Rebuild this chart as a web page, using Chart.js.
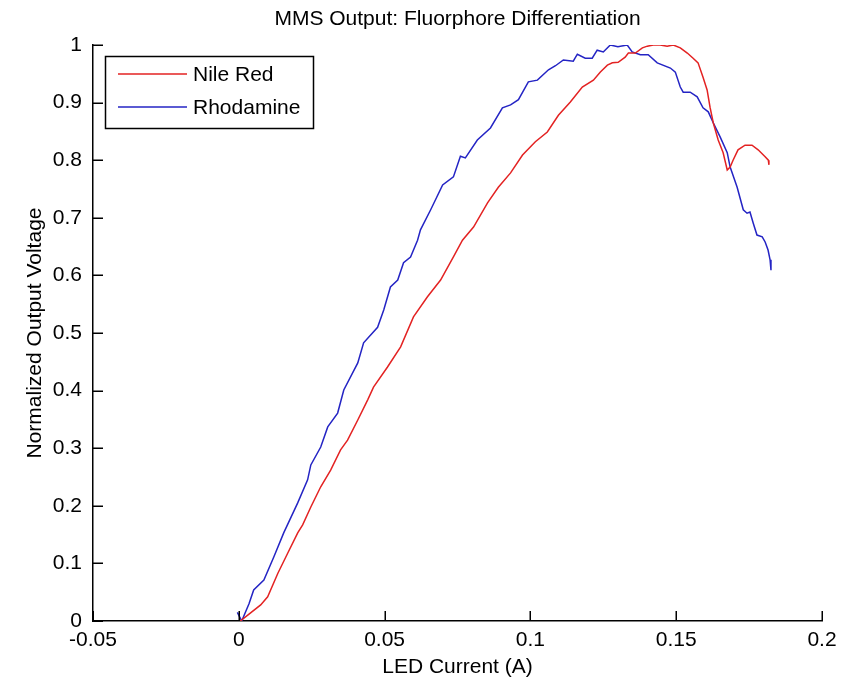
<!DOCTYPE html>
<html>
<head>
<meta charset="utf-8">
<script src="https://cdn.jsdelivr.net/npm/chart.js@4/dist/chart.umd.min.js"></script>
<style>
  html, body { margin: 0; padding: 0; background: #ffffff; }
  #wrap { width: 848px; height: 681px; position: relative; }
</style>
</head>
<body>
<div id="wrap"><canvas id="c"></canvas></div>
<script>
// ---- data ----
const chartTitle = 'MMS Output: Fluorphore Differentiation';
const xAxisTitle = 'LED Current (A)';
const yAxisTitle = 'Normalized Output Voltage';

const xTicks = [-0.05, 0, 0.05, 0.1, 0.15, 0.2];
const xTickLabels = ['-0.05', '0', '0.05', '0.1', '0.15', '0.2'];
const yTicks = [0, 0.1, 0.2, 0.3, 0.4, 0.5, 0.6, 0.7, 0.8, 0.9, 1];
const yTickLabels = ['0', '0.1', '0.2', '0.3', '0.4', '0.5', '0.6', '0.7', '0.8', '0.9', '1'];

const nileRedLabel = 'Nile Red';
const nileRedX = [0.0005, 0.0035, 0.0075, 0.0099, 0.0134, 0.0168, 0.0202, 0.0219, 0.0247, 0.0281,
  0.0315, 0.0349, 0.0373, 0.0408, 0.0442, 0.0462, 0.051, 0.0555, 0.0599, 0.0647,
  0.0692, 0.0736, 0.0767, 0.0805, 0.0853, 0.089, 0.0932, 0.0973, 0.1017, 0.1058,
  0.1096, 0.1137, 0.1178, 0.1216, 0.124, 0.1264, 0.1281, 0.1301, 0.1325, 0.1336,
  0.136, 0.1384, 0.1401, 0.1421, 0.1445, 0.1469, 0.149, 0.1514, 0.1538, 0.1558,
  0.1575, 0.1592, 0.1606, 0.1616, 0.1627, 0.1644, 0.1661, 0.1675, 0.1685, 0.1695,
  0.1712, 0.1736, 0.176, 0.1781, 0.1805, 0.1816, 0.1818];
const nileRedY = [0.0, 0.012, 0.028, 0.042, 0.083, 0.118, 0.153, 0.167, 0.198, 0.233,
  0.262, 0.297, 0.314, 0.349, 0.384, 0.406, 0.441, 0.476, 0.528, 0.563,
  0.592, 0.632, 0.661, 0.684, 0.726, 0.753, 0.778, 0.809, 0.832, 0.849,
  0.878, 0.901, 0.927, 0.939, 0.953, 0.965, 0.969, 0.970, 0.979, 0.986,
  0.986, 0.995, 0.998, 1.0, 1.0, 0.998, 1.0, 0.995, 0.986, 0.977,
  0.969, 0.944, 0.922, 0.892, 0.865, 0.835, 0.813, 0.783, 0.788, 0.800,
  0.818, 0.826, 0.826, 0.818, 0.806, 0.800, 0.792];

const rhodamineLabel = 'Rhodamine';
const rhodamineX = [-0.0005, 0.001, 0.0035, 0.0051, 0.0086, 0.012, 0.0154, 0.0202, 0.0236, 0.0247,
  0.0281, 0.0305, 0.0339, 0.036, 0.0408, 0.0428, 0.0476, 0.0497, 0.052, 0.0545,
  0.0565, 0.0589, 0.0613, 0.0623, 0.0658, 0.0699, 0.0736, 0.076, 0.0777, 0.0818,
  0.0863, 0.0904, 0.0932, 0.0959, 0.0993, 0.1024, 0.1062, 0.1086, 0.1113, 0.1147,
  0.1161, 0.1188, 0.1212, 0.1229, 0.125, 0.1274, 0.130, 0.1332, 0.1349, 0.1377,
  0.1404, 0.1435, 0.148, 0.1497, 0.1514, 0.1524, 0.1548, 0.1572, 0.1592, 0.161,
  0.1627, 0.1651, 0.1675, 0.1685, 0.1709, 0.173, 0.1743, 0.1753, 0.1764, 0.1777,
  0.1795, 0.1805, 0.1815, 0.1822, 0.1825];
const rhodamineY = [0.015, 0.0, 0.03, 0.054, 0.071, 0.111, 0.153, 0.205, 0.245, 0.271,
  0.302, 0.337, 0.361, 0.401, 0.448, 0.483, 0.510, 0.540, 0.580, 0.592,
  0.622, 0.632, 0.661, 0.679, 0.714, 0.757, 0.771, 0.807, 0.804, 0.835,
  0.856, 0.891, 0.896, 0.905, 0.936, 0.939, 0.957, 0.964, 0.974, 0.972,
  0.984, 0.977, 0.977, 0.991, 0.988, 1.0, 0.997, 1.0, 0.988, 0.983,
  0.983, 0.969, 0.960, 0.953, 0.927, 0.918, 0.918, 0.910, 0.891, 0.884,
  0.865, 0.840, 0.813, 0.788, 0.753, 0.714, 0.708, 0.710, 0.691, 0.670,
  0.667, 0.658, 0.644, 0.627, 0.609];

const nileRedColor = '#e32222';
const rhodamineColor = '#2424c4';

// ---- chart ----
const FONT = "'Liberation Sans', Arial, Helvetica, sans-serif";
const FS = 21;

function toPoints(xs, ys) { return xs.map((x, i) => ({ x: x, y: ys[i] })); }

const inwardTicks = {
  id: 'inwardTicks',
  afterDraw(chart) {
    const ctx = chart.ctx;
    const xs = chart.scales.x, ys = chart.scales.y;
    const area = chart.chartArea;
    const len = 10;
    ctx.save();
    ctx.strokeStyle = '#000';
    ctx.lineWidth = 1.5;
    ctx.beginPath();
    xTicks.forEach(v => {
      const px = Math.round(xs.getPixelForValue(v)) + 0.25;
      ctx.moveTo(px, area.bottom);
      ctx.lineTo(px, area.bottom - len);
    });
    yTicks.forEach(v => {
      const py = Math.round(ys.getPixelForValue(v)) + 0.25;
      ctx.moveTo(area.left, py);
      ctx.lineTo(area.left + len, py);
    });
    ctx.stroke();
    ctx.restore();
  }
};

const titleAndLegend = {
  id: 'titleAndLegend',
  afterDraw(chart) {
    const ctx = chart.ctx;
    const area = chart.chartArea;
    ctx.save();
    // title
    ctx.fillStyle = '#000';
    ctx.font = FS + 'px ' + FONT;
    ctx.textAlign = 'center';
    ctx.textBaseline = 'middle';
    ctx.fillText(chartTitle, (area.left + area.right) / 2, 19);
    // legend box
    const bx = 105, by = 56, bw = 208, bh = 72;
    ctx.fillStyle = '#fff';
    ctx.fillRect(bx, by, bw, bh);
    ctx.strokeStyle = '#000';
    ctx.lineWidth = 1.5;
    ctx.strokeRect(bx + 0.5, by + 0.5, bw, bh);
    const items = chart.data.datasets;
    const rowY = [74, 107];
    items.forEach((ds, i) => {
      ctx.strokeStyle = ds.borderColor;
      ctx.lineWidth = 1.5;
      ctx.beginPath();
      ctx.moveTo(118, rowY[i]);
      ctx.lineTo(187, rowY[i]);
      ctx.stroke();
      ctx.fillStyle = '#000';
      ctx.textAlign = 'left';
      ctx.textBaseline = 'middle';
      ctx.fillText(ds.label, 193, rowY[i] + 1);
    });
    ctx.restore();
  }
};

new Chart(document.getElementById('c'), {
  type: 'line',
  data: {
    datasets: [
      { label: nileRedLabel, data: toPoints(nileRedX, nileRedY), borderColor: nileRedColor,
        backgroundColor: nileRedColor, borderWidth: 1.5, pointRadius: 0, tension: 0, fill: false },
      { label: rhodamineLabel, data: toPoints(rhodamineX, rhodamineY), borderColor: rhodamineColor,
        backgroundColor: rhodamineColor, borderWidth: 1.5, pointRadius: 0, tension: 0, fill: false }
    ]
  },
  options: {
    responsive: true,
    maintainAspectRatio: false,
    animation: false,
    parsing: true,
    layout: { padding: { top: 45, right: 26, left: 0, bottom: 0 } },
    plugins: { legend: { display: false }, title: { display: false }, tooltip: { enabled: false } },
    scales: {
      x: {
        type: 'linear', min: -0.05, max: 0.2,
        afterBuildTicks: s => { s.ticks = xTicks.map(v => ({ value: v })); },
        afterFit: s => { s.height = 60; },
        ticks: { color: '#000', font: { family: FONT, size: FS }, padding: 7, maxRotation: 0,
          callback: (v, i) => xTickLabels[i] },
        grid: { display: true, drawOnChartArea: false, drawTicks: false },
        border: { display: true, color: '#000', width: 1.5 },
        title: { display: true, text: xAxisTitle, color: '#000', font: { family: FONT, size: FS },
          padding: { top: 0, bottom: 1 } }
      },
      y: {
        type: 'linear', min: 0, max: 1,
        afterBuildTicks: s => { s.ticks = yTicks.map(v => ({ value: v })); },
        afterFit: s => { s.width = 93; },
        ticks: { color: '#000', font: { family: FONT, size: FS }, padding: 11,
          callback: (v, i) => yTickLabels[i] },
        grid: { display: true, drawOnChartArea: false, drawTicks: false },
        border: { display: true, color: '#000', width: 1.5 },
        title: { display: true, text: yAxisTitle, color: '#000', font: { family: FONT, size: FS },
          padding: { top: 23, bottom: 0 } }
      }
    }
  },
  plugins: [inwardTicks, titleAndLegend]
});
</script>
</body>
</html>
